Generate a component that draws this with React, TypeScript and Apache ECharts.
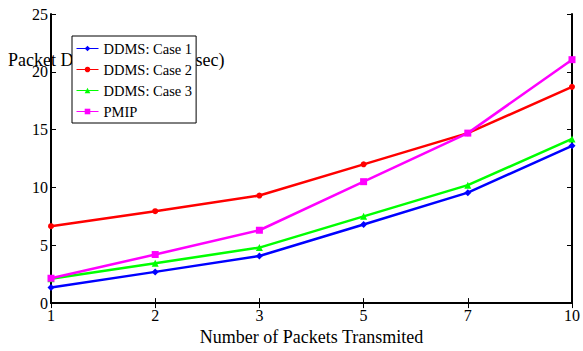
import React, { useEffect, useRef } from "react";
import * as echarts from "echarts";

const categories = ["1", "2", "3", "5", "7", "10"];
const case1 = [1.35, 2.7, 4.07, 6.8, 9.55, 13.6];
const case2 = [6.65, 7.95, 9.3, 12.0, 14.7, 18.7];
const case3 = [2.1, 3.45, 4.8, 7.5, 10.2, 14.2];
const pmip = [2.15, 4.2, 6.3, 10.5, 14.7, 21.05];
const seriesNames = ["DDMS: Case 1", "DDMS: Case 2", "DDMS: Case 3", "PMIP"];
const xTitle = "Number of Packets Transmited";
const yTitle = "Packet Delivery Delay (msec)";

const FONT = "Liberation Serif, Times New Roman, serif";

export default function App() {
  const ref = useRef<HTMLDivElement>(null);
  useEffect(() => {
    if (!ref.current) return;
    const chart = echarts.init(ref.current, undefined, { renderer: "svg" });
    const mk = (name: string, data: number[], color: string, symbol: string, size: number) => ({
      name,
      type: "line",
      data,
      xAxisIndex: 0,
      yAxisIndex: 0,
      symbol,
      symbolSize: size,
      showSymbol: true,
      lineStyle: { color, width: 2.5 },
      itemStyle: { color, borderWidth: 0 },
      emphasis: { disabled: true },
    });
    chart.setOption({
      animation: false,
      backgroundColor: "#fff",
      textStyle: { fontFamily: FONT },
      grid: { left: 51, right: 7, top: 14, bottom: 41, containLabel: false },
      graphic: [
        {
          type: "text",
          left: 8,
          top: 51,
          z: 0,
          style: { text: yTitle, fontFamily: FONT, fontSize: 18, fill: "#000" },
        },
      ],
      legend: {
        data: seriesNames,
        orient: "vertical",
        left: 72,
        top: 36,
        padding: [5, 4, 4, 4],
        itemWidth: 22,
        itemHeight: 7,
        itemGap: 6,
        backgroundColor: "#fff",
        borderColor: "#000",
        borderWidth: 1,
        z: 10,
        lineStyle: { width: 1 },
        textStyle: { fontFamily: FONT, fontSize: 14.5, color: "#000", lineHeight: 14 },
      },
      xAxis: [
        {
          type: "category",
          data: categories,
          boundaryGap: false,
          position: "bottom",
          name: xTitle,
          nameLocation: "middle",
          nameGap: 21,
          nameTextStyle: { fontFamily: FONT, fontSize: 18, color: "#000" },
          axisLine: { lineStyle: { color: "#000", width: 2 } },
          axisTick: { inside: true, length: 5, lineStyle: { color: "#000", width: 1 } },
          axisLabel: { fontFamily: FONT, fontSize: 16, color: "#000", margin: 4 },
          splitLine: { show: false },
        },
        {
          type: "category",
          data: categories,
          boundaryGap: false,
          position: "top",
          axisLine: { lineStyle: { color: "#000", width: 1.5 } },
          axisTick: { inside: true, length: 5, lineStyle: { color: "#000", width: 1 } },
          axisLabel: { show: false },
          splitLine: { show: false },
        },
      ],
      yAxis: [
        {
          type: "value",
          min: 0,
          max: 25,
          interval: 5,
          position: "left",
          axisLine: { show: true, lineStyle: { color: "#000", width: 2 } },
          axisTick: { show: true, inside: true, length: 5, lineStyle: { color: "#000", width: 1 } },
          axisLabel: { fontFamily: FONT, fontSize: 16, color: "#000", margin: 3 },
          splitLine: { show: false },
        },
        {
          type: "value",
          min: 0,
          max: 25,
          interval: 5,
          position: "right",
          axisLine: { show: true, lineStyle: { color: "#000", width: 2 } },
          axisTick: { show: true, inside: true, length: 5, lineStyle: { color: "#000", width: 1 } },
          axisLabel: { show: false },
          splitLine: { show: false },
        },
      ],
      series: [
        mk(seriesNames[0], case1, "#0000ff", "diamond", 7),
        mk(seriesNames[1], case2, "#ff0000", "circle", 6),
        mk(seriesNames[2], case3, "#00ff00", "triangle", 7),
        mk(seriesNames[3], pmip, "#ff00ff", "rect", 7),
      ],
    });
    return () => chart.dispose();
  }, []);
  return <div ref={ref} style={{ width: 583, height: 351, position: "absolute", left: 0, top: 0 }} />;
}
